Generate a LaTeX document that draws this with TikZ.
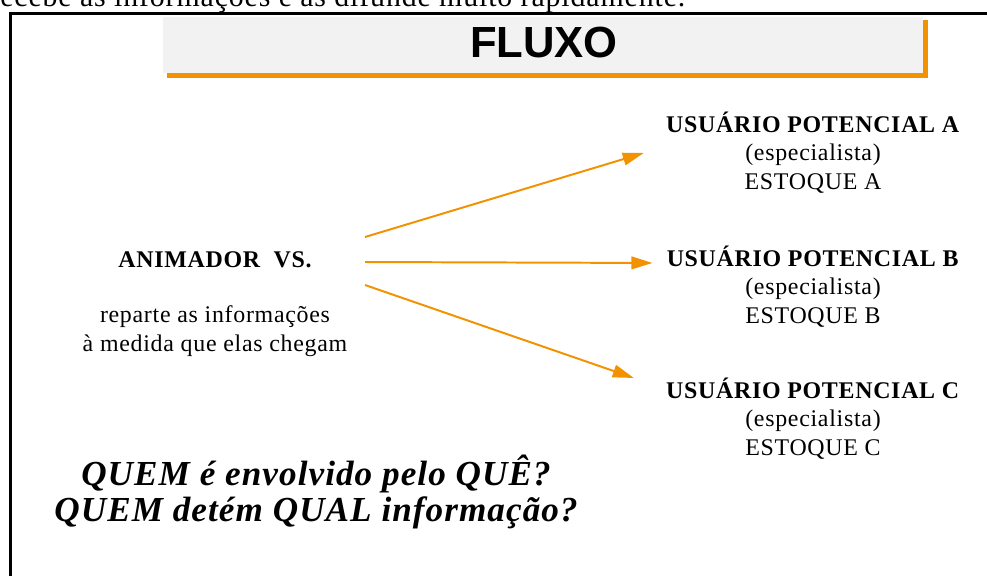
\documentclass[tikz,border=0pt]{standalone}
\usepackage{fontspec}
\setmainfont{Liberation Serif}[LetterSpace=3]
\newfontfamily\titlefont{Liberation Sans}
\usetikzlibrary{arrows.meta}
\definecolor{laranja}{HTML}{F39200}
\definecolor{cinza}{HTML}{F2F2F2}

\begin{document}
\begin{tikzpicture}[x=0.025cm,y=-0.025cm,
    seta/.style={laranja,line width=1.4pt,-{Triangle[length=15pt,width=9pt]}},
    texto/.style={inner sep=0pt,align=center,font=\fontsize{17}{20}\selectfont},
    pergunta/.style={inner sep=0pt,align=center,font=\fontsize{25}{25}\selectfont\bfseries\itshape}]
  \useasboundingbox (0,0) rectangle (987,575);
  % moldura
  \draw[line width=2.2pt] (10.5,580) -- (10.5,13.5) -- (995,13.5);
  % linha cortada da pagina anterior
  \node[inner sep=0pt,anchor=base west,font=\fontsize{21.2}{24}\selectfont] (cortado) at (0,6) {ecebe as informações e as difunde muito rapidamente.};
  % titulo
  \fill[laranja] (167,73) rectangle (928,77.5);
  \fill[laranja] (923,20) rectangle (928,77.5);
  \fill[cinza] (163,17) rectangle (923,73);
  \node[inner sep=0pt,anchor=base,font=\titlefont\fontsize{31}{31}\selectfont\bfseries] (titulo) at (544,57) {FLUXO};
  % animador
  \node[texto,anchor=base,font=\fontsize{17}{20}\selectfont\bfseries] (anim) at (215,267) {ANIMADOR\ \ VS.};
  \node[texto,anchor=base] (reparte) at (215,351) {reparte as informações\\à medida que elas chegam};
  % usuarios
  \foreach \n/\y in {A/189,B/323,C/455}
    \node[texto,anchor=base] (usr\n) at (813,\y) {\textbf{USUÁRIO POTENCIAL \n}\\(especialista)\\ESTOQUE \n};
  \coordinate (saiA) at (365,237);
  \coordinate (saiB) at (365,262);
  \coordinate (saiC) at (365,285);
  \draw[seta] (saiA) -- ([shift={(-22,41)}]usrA.north west);
  \draw[seta] (saiB) -- ([shift={(-14,17)}]usrB.north west);
  \draw[seta] (saiC) -- ([shift={(-32,0)}]usrC.north west);
  % perguntas
  \node[pergunta,anchor=base] (quem) at (316,521) {QUEM é envolvido pelo QUÊ?\\QUEM detém QUAL informação?};
\end{tikzpicture}
\end{document}
